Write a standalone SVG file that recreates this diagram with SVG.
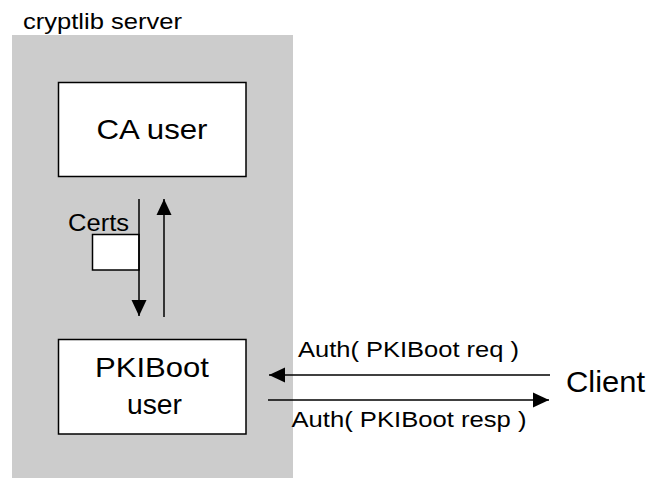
<svg xmlns="http://www.w3.org/2000/svg" width="648" height="478" viewBox="0 0 648 478">
  <style>
    text { font-family: "Liberation Sans", Arial, sans-serif; fill: #000; }
    .box { fill: #fff; stroke: #000; stroke-width: 1.5; }
    .conn { stroke: #000; stroke-width: 1.5; fill: none; marker-end: url(#arrow); }
    .big { font-size: 28px; }
    .small { font-size: 22px; }
  </style>
  <defs>
    <marker id="arrow" markerUnits="userSpaceOnUse" markerWidth="18" markerHeight="16" refX="16" refY="8" orient="auto">
      <path d="M0,0.5 L16,8 L0,15.5 Z" fill="#000"/>
    </marker>
  </defs>
  <rect width="648" height="478" fill="#fff"/>
  <g id="server">
    <rect x="12" y="35" width="281" height="443" fill="#cccccc"/>
    <text x="23" y="29" class="small" textLength="159" lengthAdjust="spacingAndGlyphs">cryptlib server</text>
  </g>
  <g id="ca-user">
    <rect class="box" x="58.5" y="82.5" width="187.5" height="94"/>
    <text x="96.5" y="138.5" class="big" textLength="111" lengthAdjust="spacingAndGlyphs">CA user</text>
  </g>
  <g id="certs">
    <rect class="box" x="92.5" y="234.5" width="46.5" height="35.5"/>
    <text x="68" y="230.5" style="font-size:24px" textLength="61" lengthAdjust="spacingAndGlyphs">Certs</text>
  </g>
  <g id="pkiboot-user">
    <rect class="box" x="58.5" y="339.5" width="187.5" height="94.5"/>
    <text x="95" y="376.5" class="big" textLength="114" lengthAdjust="spacingAndGlyphs">PKIBoot</text>
    <text x="127" y="413.5" class="big" textLength="55" lengthAdjust="spacingAndGlyphs">user</text>
  </g>
  <g id="client">
    <text x="566" y="391.5" style="font-size:29px" textLength="79" lengthAdjust="spacingAndGlyphs">Client</text>
  </g>
  <g id="connectors">
    <line class="conn" x1="139" y1="199" x2="139" y2="316"/>
    <line class="conn" x1="164" y1="317" x2="164" y2="199"/>
    <line class="conn" x1="550" y1="375" x2="269" y2="375"/>
    <line class="conn" x1="268" y1="400" x2="549" y2="400"/>
    <text x="298" y="357" class="small" textLength="221" lengthAdjust="spacingAndGlyphs">Auth( PKIBoot req )</text>
    <text x="291.5" y="426.5" class="small" textLength="235" lengthAdjust="spacingAndGlyphs">Auth( PKIBoot resp )</text>
  </g>
</svg>
